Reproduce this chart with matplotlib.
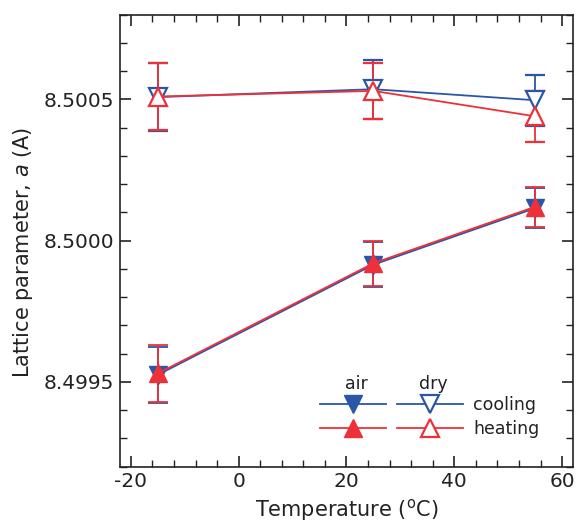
import matplotlib
matplotlib.use("Agg")
import matplotlib.pyplot as plt
from matplotlib.lines import Line2D
from matplotlib.ticker import MultipleLocator, FormatStrFormatter

temperature = [-15, 25, 55]

air_cooling = [8.499525, 8.499915, 8.500115]
air_cooling_err = [0.00010, 0.00008, 0.00007]
air_heating = [8.49953, 8.49992, 8.50012]
air_heating_err = [0.00010, 0.00008, 0.00007]

dry_cooling = [8.500508, 8.500536, 8.500497]
dry_cooling_err = [0.00012, 0.000105, 0.00009]
dry_heating = [8.500510, 8.500530, 8.500440]
dry_heating_err = [0.00012, 0.000100, 0.00009]

xticks = [-20, 0, 20, 40, 60]
yticks = [8.4995, 8.5000, 8.5005]

BLUE = "#2b56a7"
RED = "#ee3039"
TXT = "#222222"

plt.rcParams["font.family"] = ["DejaVu Sans"]
plt.rcParams["axes.unicode_minus"] = False

fig = plt.figure(figsize=(5.77, 5.22), dpi=100)
ax = fig.add_axes([0.208, 0.106, 0.785, 0.866])

common = dict(lw=1.3, elinewidth=1.3, capsize=7, capthick=1.3, ms=13)

h1 = ax.errorbar(temperature, air_cooling, yerr=air_cooling_err, color=BLUE,
                 marker="v", mfc=BLUE, mec=BLUE, **common)
h2 = ax.errorbar(temperature, air_heating, yerr=air_heating_err, color=RED,
                 marker="^", mfc=RED, mec=RED, **common)
h3 = ax.errorbar(temperature, dry_cooling, yerr=dry_cooling_err, color=BLUE,
                 marker="v", mfc="white", mec=BLUE, mew=1.6, **common)
h4 = ax.errorbar(temperature, dry_heating, yerr=dry_heating_err, color=RED,
                 marker="^", mfc="white", mec=RED, mew=1.6, **common)

ax.set_xlim(-22, 62)
ax.set_ylim(8.4992, 8.5008)
ax.set_xticks(xticks)
ax.set_yticks(yticks)
ax.yaxis.set_major_formatter(FormatStrFormatter("%.4f"))
ax.xaxis.set_minor_locator(MultipleLocator(4))
ax.yaxis.set_minor_locator(MultipleLocator(0.0001))
ax.tick_params(which="both", direction="in", top=True, right=True,
               colors="#222222", labelcolor=TXT, labelsize=14.5)
ax.tick_params(which="major", length=8, width=1.2, pad=4)
ax.tick_params(which="minor", length=5, width=1.0)
for s in ax.spines.values():
    s.set_linewidth(1.2)
    s.set_color("#222222")

ax.set_xlabel("Temperature ($^{\\mathrm{o}}$C)", color=TXT, fontsize=15, labelpad=4)
ax.set_ylabel("Lattice parameter, $\\it{a}$ (A)", color=TXT, fontsize=15)
ax.yaxis.set_label_coords(-0.188, 0.473)


def strip(line):
    return Line2D([], [], color=line.get_color(), lw=1.3, marker=line.get_marker(),
                  ms=13, mfc=line.get_markerfacecolor(), mec=line.get_markeredgecolor(),
                  mew=line.get_markeredgewidth())


leg_handles = [h1.lines[0], h2.lines[0], h3.lines[0], h4.lines[0]]
leg = ax.legend([strip(h) for h in leg_handles], ["", "", "cooling", "heating"],
                ncol=2, loc="lower right", bbox_to_anchor=(0.945, 0.045),
                frameon=False, handlelength=3.8, handletextpad=0.6,
                columnspacing=0.0, labelspacing=0.3, fontsize=12.5,
                labelcolor=TXT, borderpad=0.0)
ax.text(0.521, 0.183, "air", transform=ax.transAxes, ha="center", va="center",
        color=TXT, fontsize=12.5)
ax.text(0.691, 0.183, "dry", transform=ax.transAxes, ha="center", va="center",
        color=TXT, fontsize=12.5)

fig.savefig("out.png", dpi=100)
